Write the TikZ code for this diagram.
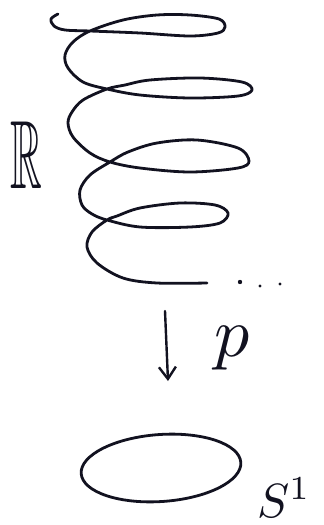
\documentclass[tikz,border=0pt]{standalone}
\usepackage{amssymb}
\usetikzlibrary{arrows.meta,shapes.geometric}
\definecolor{ink}{RGB}{18,18,32}
\tikzset{
  pen/.style={draw=ink, line width=2.8pt, line cap=round, line join=round},
  lbl/.style={text=ink, inner sep=0pt}
}
\begin{document}
\begin{tikzpicture}[x=1pt,y=-1pt]
\useasboundingbox (0,0) rectangle (324,525);
% helix (the real line R)
\draw[pen] plot[smooth, tension=0.55] coordinates {
 (58,14) (51,19) (54,26) (65,30) (90,31) (140,33) (190,36) (218,33) (225,27)
 (219,19) (190,15) (157,15) (123,20) (90,31)
 (73,42) (65,55) (68,68) (83,82) (107,89) (140,95) (190,98) (238,96) (252,90)
 (242,82) (200,78) (150,80) (125,85) (107,89)
 (83,100) (72,112) (68,123) (73,137) (90,153) (110,162) (140,168) (190,172) (238,168) (249,161)
 (238,148) (197,140) (157,143) (128,152) (110,162)
 (90,175) (80,190) (82,205) (92,214) (107,220) (140,227) (190,227) (220,223) (228,213)
 (215,205) (180,203) (140,208) (117,216) (107,220)
 (92,232) (87,247) (97,263) (123,278) (157,283) (207,283)
};
% dots
\fill[ink] (240,282) circle (2.2pt);
\fill[ink] (260,286) circle (1.6pt);
\fill[ink] (280,284) circle (1.6pt);
% label R
\node[lbl] (R) at (26,155) {\scalebox{4.4}[9.7]{$\mathbb{R}$}};
% map p
\coordinate (ptop) at (165,311);
\coordinate (pbot) at (168,381);
\draw[pen, line width=2.4pt, -{Straight Barb[length=12pt,width=17pt,line width=2.4pt]}] (ptop) -- (pbot);
\node[lbl] (p) at (232,348) {\scalebox{7}{$p$}};
% circle S^1
\node[pen, ellipse, minimum width=160pt, minimum height=67pt, rotate=4, inner sep=0pt] (S) at (161,468) {};
\node[lbl, anchor=base west] (Slbl) at (257,517) {\scalebox{4.8}{$S^1$}};
\end{tikzpicture}
\end{document}
